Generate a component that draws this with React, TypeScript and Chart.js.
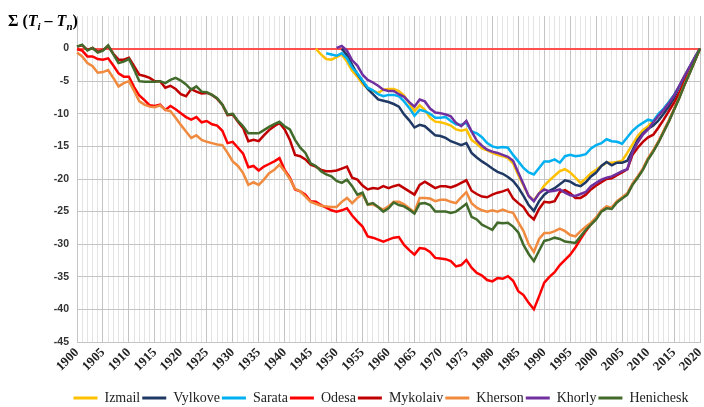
import { useEffect, useRef } from 'react';
import { Chart, registerables } from 'chart.js';

Chart.register(...registerables);

// Categories: years 1900..2020
const years: string[] = Array.from({ length: 121 }, (_, i) => String(1900 + i));

const seriesNames = ['Izmail', 'Vylkove', 'Sarata', 'Odesa', 'Mykolaiv', 'Kherson', 'Khorly', 'Henichesk'];
const seriesColors = ['#FFC000', '#1F3864', '#00B0F0', '#FF0000', '#C00000', '#F08A3E', '#7030A0', '#426A2B'];
const seriesStart = [1946, 1951, 1948, 1900, 1900, 1900, 1950, 1900];

const izmail = [
  0, -0.9, -1.6, -1.7,
  -1.3, -0.9, -2.0, -3.4, -4.3, -5.4, -6.1, -6.5, -6.8, -6.3,
  -6.2, -6.2, -6.5, -7.2, -8.4, -9.6, -8.7, -9.4, -10.6, -11.2,
  -11.3, -11.5, -11.8, -12.4, -12.6, -12.4, -14.0, -14.6, -15.3, -15.6,
  -16.0, -16.3, -16.5, -16.8, -17.6, -19.4, -21.0, -22.6, -23.3, -22.2,
  -21.0, -20.2, -19.5, -18.8, -18.5, -19.0, -19.8, -20.6, -19.9, -19.1,
  -18.6, -18.0, -17.5, -17.5, -17.4, -17.2, -16.0, -14.7, -13.4, -12.5,
  -11.9, -11.1, -10.3, -9.4, -8.2, -7.2, -5.8, -4.2, -2.8, -1.3,
  0,
];

const vylkove = [
  0,
  -1.0, -2.5, -3.9, -5.0, -6.2, -7.0, -7.8, -8.0,
  -8.2, -8.5, -8.9, -10.1, -11.0, -12.1, -11.7, -11.9, -12.6, -13.3,
  -13.4, -13.7, -14.2, -14.5, -14.8, -14.5, -16.0, -16.7, -17.3, -17.8,
  -18.4, -18.9, -19.2, -19.7, -20.3, -21.3, -22.6, -24.0, -24.9, -23.4,
  -22.4, -21.8, -21.4, -20.8, -20.2, -20.4, -20.9, -21.1, -20.5, -19.6,
  -19.0, -18.0, -17.4, -17.9, -17.5, -17.5, -17.2, -15.6, -14.0, -13.0,
  -12.3, -11.8, -11.0, -10.0, -8.9, -7.6, -5.9, -4.4, -2.9, -1.4,
  0,
];

const sarata = [
  -0.7, -0.9,
  -1.1, -0.7, -1.5, -2.9, -3.8, -4.9, -6.0, -6.4, -7.0, -7.3,
  -7.1, -7.1, -7.3, -8.1, -9.1, -10.3, -9.4, -9.6, -10.0, -10.6,
  -10.6, -10.5, -11.1, -11.6, -11.7, -11.4, -12.7, -13.0, -13.6, -14.5,
  -15.0, -15.2, -15.1, -15.2, -16.3, -17.3, -18.3, -19.0, -19.3, -18.3,
  -17.3, -17.3, -17.0, -17.5, -16.5, -16.3, -16.5, -16.4, -16.2, -15.3,
  -14.8, -14.5, -13.9, -14.2, -14.3, -14.6, -13.6, -12.6, -11.9, -11.4,
  -10.9, -11.1, -10.0, -9.2, -8.2, -7.1, -5.8, -4.3, -2.8, -1.4,
  0,
];

const odesa = [
  -0.1, -0.3, -1.2, -1.2, -1.6, -1.7, -1.5, -2.6, -3.8, -4.3,
  -4.3, -5.9, -7.2, -7.9, -8.7, -8.8, -8.6, -9.4, -8.8, -9.3,
  -9.9, -10.5, -10.9, -10.5, -11.3, -11.1, -11.6, -11.8, -12.6, -14.5,
  -14.3, -15.2, -16.1, -18.2, -18.0, -18.7, -18.1, -17.7, -17.3, -16.8,
  -18.6, -19.8, -21.6, -21.9, -22.4, -23.4, -23.5, -24.0, -24.4, -24.8,
  -25.0, -24.8, -24.5, -25.6, -26.5, -27.3, -28.8, -29.0, -29.3, -29.6,
  -29.3, -29.0, -28.9, -30.1, -30.9, -31.6, -30.6, -30.7, -31.2, -32.1,
  -32.2, -32.3, -32.6, -33.4, -33.2, -32.4, -33.6, -34.4, -34.8, -35.5,
  -35.7, -35.2, -35.3, -34.9, -35.6, -37.2, -37.8, -39.0, -40.0, -38.0,
  -35.9, -35.0, -34.3, -33.2, -32.4, -31.6, -30.5, -29.2, -28.0, -26.9,
  -26.0, -24.9, -24.3, -24.4, -23.5, -22.9, -22.3, -20.8, -19.7, -18.5,
  -16.9, -15.7, -14.3, -12.7, -11.1, -9.3, -7.5, -5.6, -3.7, -1.9,
  0,
];

const mykolaiv = [
  0.3, 0.5, -0.2, 0.1, -0.5, -0.2, 0.4, -0.8, -1.7, -1.7,
  -1.4, -2.7, -4.0, -4.2, -4.5, -5.0, -5.0, -6.0, -5.7, -6.2,
  -7.0, -7.3, -6.2, -6.6, -6.9, -6.8, -7.1, -7.7, -8.6, -10.2,
  -10.1, -11.2, -12.2, -14.2, -14.0, -14.2, -13.3, -12.5, -11.9, -11.4,
  -12.4, -14.0, -16.3, -16.5, -17.0, -17.8, -18.1, -18.6, -18.8, -18.8,
  -18.7, -18.4, -18.1, -19.8, -20.1, -21.0, -21.6, -21.4, -21.5, -21.1,
  -21.4, -21.1, -20.9, -21.4, -21.9, -22.4, -20.9, -20.4, -20.9, -21.4,
  -21.1, -21.1, -21.3, -21.0, -20.6, -20.2, -21.8, -22.3, -22.7, -22.8,
  -22.4, -22.1, -21.9, -21.6, -23.0, -23.7, -24.3, -25.5, -26.2, -24.6,
  -23.5, -23.6, -23.4, -22.0, -21.7, -22.2, -22.9, -22.9, -22.4, -21.6,
  -21.0, -20.5, -20.0, -19.9, -19.4, -19.0, -18.5, -16.3, -15.2, -14.3,
  -13.6, -13.2, -12.1, -10.9, -9.6, -8.3, -6.8, -5.0, -3.4, -1.8,
  0,
];

const kherson = [
  -0.6, -1.2, -2.2, -2.7, -3.7, -3.6, -3.3, -4.5, -5.8, -5.3,
  -5.0, -6.5, -8.1, -8.6, -8.9, -9.0, -8.7, -9.4, -9.6, -10.6,
  -11.7, -12.7, -13.7, -13.3, -14.0, -14.3, -14.5, -14.7, -14.8, -16.0,
  -17.3, -18.0, -19.1, -20.9, -20.5, -20.9, -20.1, -19.1, -18.6, -17.8,
  -18.8, -20.0, -21.5, -21.9, -22.7, -23.5, -23.8, -24.1, -24.2, -24.3,
  -24.3, -23.5, -22.9, -23.7, -22.9, -22.3, -23.9, -23.9, -24.3, -24.7,
  -24.2, -23.5, -23.5, -23.9, -24.5, -25.1, -22.9, -22.9, -23.0, -23.4,
  -23.2, -23.2, -23.5, -23.7, -22.8, -22.0, -23.7, -24.4, -24.8, -25.0,
  -24.8, -25.0, -24.7, -25.0, -25.2, -26.6, -28.0, -30.0, -31.2, -29.2,
  -28.3, -28.3, -28.0, -27.6, -28.0, -28.6, -28.8, -28.0, -27.3, -26.7,
  -25.9, -24.8, -24.2, -24.4, -23.4, -22.8, -22.2, -20.7, -19.6, -18.4,
  -16.8, -15.6, -14.2, -12.6, -11.0, -9.3, -7.5, -5.5, -3.7, -1.8,
  0,
];

const khorly = [
  0.1, 0.4, -0.3, -1.8, -2.6, -4.0, -4.8, -5.2, -5.7, -6.3,
  -6.5, -6.5, -7.0, -7.4, -8.2, -8.9, -7.8, -8.1, -9.2, -9.8,
  -9.9, -10.1, -10.4, -11.4, -11.9, -11.1, -12.7, -14.1, -14.9, -15.5,
  -15.8, -16.0, -16.3, -16.6, -17.2, -19.0, -20.8, -22.6, -23.4, -22.2,
  -21.6, -21.9, -21.8, -21.6, -22.1, -22.5, -22.6, -22.3, -22.0, -21.1,
  -20.6, -20.1, -19.8, -19.6, -19.2, -18.8, -18.5, -15.9, -14.4, -13.2,
  -12.4, -11.3, -10.3, -9.4, -8.4, -7.2, -5.7, -4.2, -2.8, -1.4,
  0,
];

const henichesk = [
  0.3, 0.6, -0.3, 0.1, -0.6, -0.3, 0.5, -0.9, -2.2, -2.0,
  -1.6, -3.2, -5.0, -5.1, -5.1, -5.1, -5.0, -5.3, -4.8, -4.5,
  -4.9, -5.5, -6.3, -5.8, -6.6, -6.7, -7.1, -7.6, -8.6, -10.1,
  -10.0, -11.1, -11.9, -13.0, -13.0, -13.0, -12.5, -12.0, -11.6, -11.2,
  -11.9, -12.4, -14.0, -15.2, -16.0, -17.6, -18.0, -18.8, -19.3, -19.6,
  -20.3, -20.6, -20.1, -21.1, -22.4, -22.1, -23.9, -23.7, -24.3, -25.0,
  -24.5, -23.6, -24.0, -24.2, -24.7, -25.3, -23.8, -23.7, -24.0, -25.0,
  -25.0, -25.0, -25.2, -25.0, -24.4, -23.8, -25.8, -26.2, -27.0, -27.4,
  -27.8, -26.7, -26.8, -26.7, -27.3, -28.2, -30.1, -31.5, -32.6, -31.0,
  -29.5, -29.3, -29.0, -29.2, -29.6, -29.7, -29.8, -28.8, -27.8, -27.0,
  -26.2, -25.0, -24.5, -24.6, -23.6, -23.0, -22.4, -20.9, -19.8, -18.6,
  -17.0, -15.8, -14.4, -12.8, -11.2, -9.4, -7.6, -5.6, -3.8, -1.9,
  0,
];

const seriesValues = [izmail, vylkove, sarata, odesa, mykolaiv, kherson, khorly, henichesk];

// Y axis ticks
const yMin = -45;
const yMax = 5;
const yStep = 5;

// Axis title pieces: Σ (T_i – T_n)
const axisTitleParts = [
  { text: 'Σ (', style: 'bold', sub: false },
  { text: 'T', style: 'italic bold', sub: false },
  { text: 'i', style: 'italic bold', sub: true },
  { text: ' – ', style: 'bold', sub: false },
  { text: 'T', style: 'italic bold', sub: false },
  { text: 'n', style: 'italic bold', sub: true },
  { text: ')', style: 'bold', sub: false },
];

const axisTitlePlugin = {
  id: 'axisTitleTopLeft',
  afterDraw(chart: any) {
    const ctx = chart.ctx;
    ctx.save();
    ctx.fillStyle = '#000';
    ctx.textBaseline = 'alphabetic';
    ctx.textAlign = 'left';
    let x = 8;
    const y = 26;
    for (const p of axisTitleParts) {
      const size = p.sub ? 11 : 16;
      ctx.font = `${p.style} ${size}px "Liberation Serif"`;
      ctx.fillText(p.text, x, y + (p.sub ? 4 : 0));
      x += ctx.measureText(p.text).width;
    }
    ctx.restore();
  },
};

function padSeries(values: number[], start: number): (number | null)[] {
  const lead = start - 1900;
  const out: (number | null)[] = [];
  for (let i = 0; i < lead; i++) out.push(null);
  return out.concat(values);
}

export default function App() {
  const canvasRef = useRef<HTMLCanvasElement | null>(null);

  useEffect(() => {
    if (!canvasRef.current) return;
    const datasets = seriesNames.map((name, i) => ({
      label: name,
      data: padSeries(seriesValues[i], seriesStart[i]),
      borderColor: seriesColors[i],
      backgroundColor: seriesColors[i],
      borderWidth: 2.5,
      pointRadius: 0,
      pointHoverRadius: 0,
      tension: 0,
      fill: false,
      spanGaps: false,
      order: seriesNames.length - 1 - i,
    }));

    const chart = new Chart(canvasRef.current, {
      type: 'line',
      data: { labels: years, datasets },
      options: {
        responsive: false,
        animation: false,
        layout: { padding: { left: 50, right: -8, top: 16, bottom: -8 } },
        plugins: {
          tooltip: { enabled: false },
          title: { display: false },
          legend: {
            position: 'bottom',
            labels: {
              boxWidth: 24,
              boxHeight: 3,
              padding: 2,
              color: '#222',
              font: { family: '"Liberation Serif"', size: 14 },
              sort: (a: any, b: any) => a.datasetIndex - b.datasetIndex,
              generateLabels: (ch: any) =>
                (Chart.defaults.plugins.legend.labels.generateLabels as any)(ch).map((l: any) => ({
                  ...l,
                  lineWidth: 0,
                })),
            },
          },
        },
        scales: {
          x: {
            type: 'category',
            offset: false,
            afterFit: (scale: any) => {
              scale.height = 47;
              scale.paddingLeft = 0;
              scale.paddingRight = 4;
            },
            grid: {
              drawTicks: false,
              color: (c: any) => (c.index % 5 === 0 ? '#C4C4C4' : '#E4E4E4'),
              lineWidth: 1,
            },
            border: { color: '#C4C4C4' },
            ticks: {
              autoSkip: false,
              maxRotation: 45,
              minRotation: 45,
              padding: 3,
              color: '#222',
              font: { family: '"Liberation Serif"', size: 13, weight: 'bold' },
              callback: (_v: any, index: number) => (index % 5 === 0 ? years[index] : ''),
            },
          },
          y: {
            min: yMin,
            max: yMax,
            afterFit: (scale: any) => {
              scale.width = 27;
            },
            grid: {
              drawTicks: false,
              color: (c: any) =>
                c.tick.value === 0 ? '#FF5050' : c.tick.value === yMax ? 'rgba(0,0,0,0)' : '#C4C4C4',
              lineWidth: (c: any) => (c.tick.value === 0 ? 2 : 1),
            },
            border: { display: false },
            ticks: {
              stepSize: yStep,
              padding: 8,
              color: '#333',
              font: { family: '"Liberation Sans"', size: 10.5, weight: 'bold' },
              callback: (v: any) => (v === yMax ? '' : String(v)),
            },
          },
        },
      },
      plugins: [axisTitlePlugin],
    });

    return () => chart.destroy();
  }, []);

  return (
    <div style={{ position: 'absolute', left: 0, top: 0, width: 704, height: 407, background: '#fff' }}>
      <canvas ref={canvasRef} width={704} height={407} style={{ width: 704, height: 407, display: 'block' }} />
    </div>
  );
}
